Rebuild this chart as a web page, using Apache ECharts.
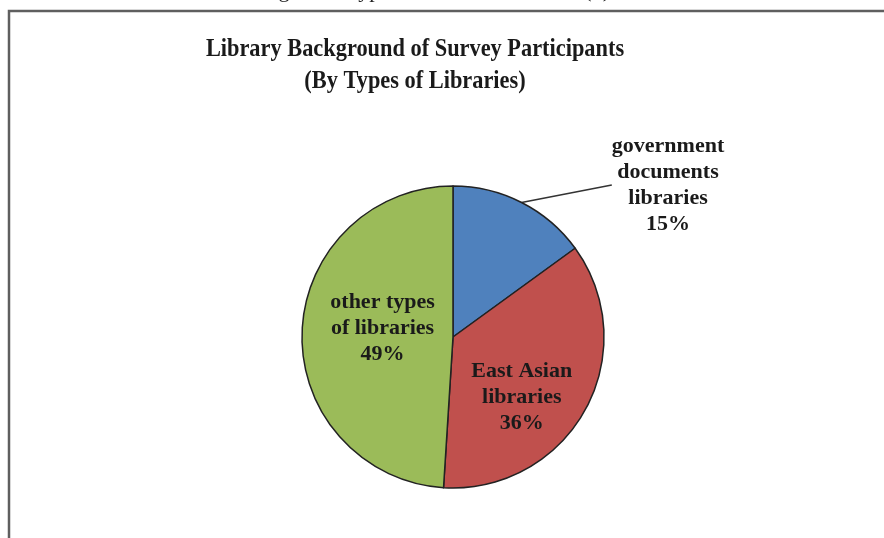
<!DOCTYPE html>
<html>
<head>
<meta charset="utf-8">
<title>Library Background of Survey Participants</title>
<script src="https://cdn.jsdelivr.net/npm/echarts@6/dist/echarts.min.js"></script>
<style>
  html, body { margin: 0; padding: 0; background: #ffffff; }
  #chart { width: 884px; height: 538px; }
</style>
</head>
<body>
<div id="chart"></div>
<script>
// Slice names (as printed on the chart) and their shares in percent
const categories = ['government\ndocuments\nlibraries', 'East Asian\nlibraries', 'other types\nof libraries'];
const shares = [15, 36, 49];
const sliceColors = ['#4F81BD', '#C0504D', '#9BBB59'];

const titleLines = ['Library Background of Survey Participants', '(By Types of Libraries)'];
const captionAbove = 'Chart 3. Background Types of Libraries Overall (1)';

const labelFont = {
  fontFamily: '"Liberation Serif", "Times New Roman", serif',
  fontWeight: 'bold',
  fontSize: 22,
  lineHeight: 26,
  color: '#1a1a1a'
};

const chart = echarts.init(document.getElementById('chart'), null, { renderer: 'canvas' });

const pieData = categories.map(function (name, i) {
  const item = {
    name: name,
    value: shares[i],
    itemStyle: { color: sliceColors[i] }
  };
  if (i === 0) {
    item.label = { position: 'outside' };
    item.labelLine = { show: true };
  } else {
    item.label = { position: 'inside' };
    item.labelLine = { show: false };
    if (i === 1) item.label.offset = [0, 22];
    if (i === 2) item.label.offset = [8, -6];
  }
  return item;
});

chart.setOption({
  backgroundColor: '#ffffff',
  animation: false,
  graphic: [
    {
      type: 'rect',
      shape: { x: 9, y: 11, width: 1000, height: 1000 },
      style: { fill: 'none', stroke: '#5f5f5f', lineWidth: 2.5 },
      z: 10
    },
    {
      // caption of the page, mostly cut off by the top edge
      type: 'text',
      x: 157,
      y: 2,
      style: {
        text: captionAbove,
        font: '22px "Liberation Serif", serif',
        fill: '#222',
        textVerticalAlign: 'bottom'
      }
    },
    {
      type: 'text',
      x: 415,
      y: 65,
      scaleX: 0.86,
      originX: 0,
      originY: 0,
      style: {
        text: titleLines.join('\n'),
        font: 'bold 26px "Liberation Serif", serif',
        lineHeight: 32,
        fill: '#1a1a1a',
        textAlign: 'center',
        textVerticalAlign: 'middle'
      }
    }
  ],
  series: [{
    type: 'pie',
    center: [453, 337],
    radius: 151,
    startAngle: 90,
    clockwise: true,
    data: pieData,
    itemStyle: { borderColor: '#222', borderWidth: 1.5 },
    label: Object.assign({ formatter: '{b}\n{c}%', align: 'center' }, labelFont),
    labelLine: { length: 10, length2: 0, lineStyle: { color: '#333', width: 1.5 } },
    labelLayout: function (p) {
      if (p.dataIndex === 0) {
        return { x: 668, y: 185, align: 'center', verticalAlign: 'middle' };
      }
    },
    emphasis: { disabled: true }
  }]
});
</script>
</body>
</html>
